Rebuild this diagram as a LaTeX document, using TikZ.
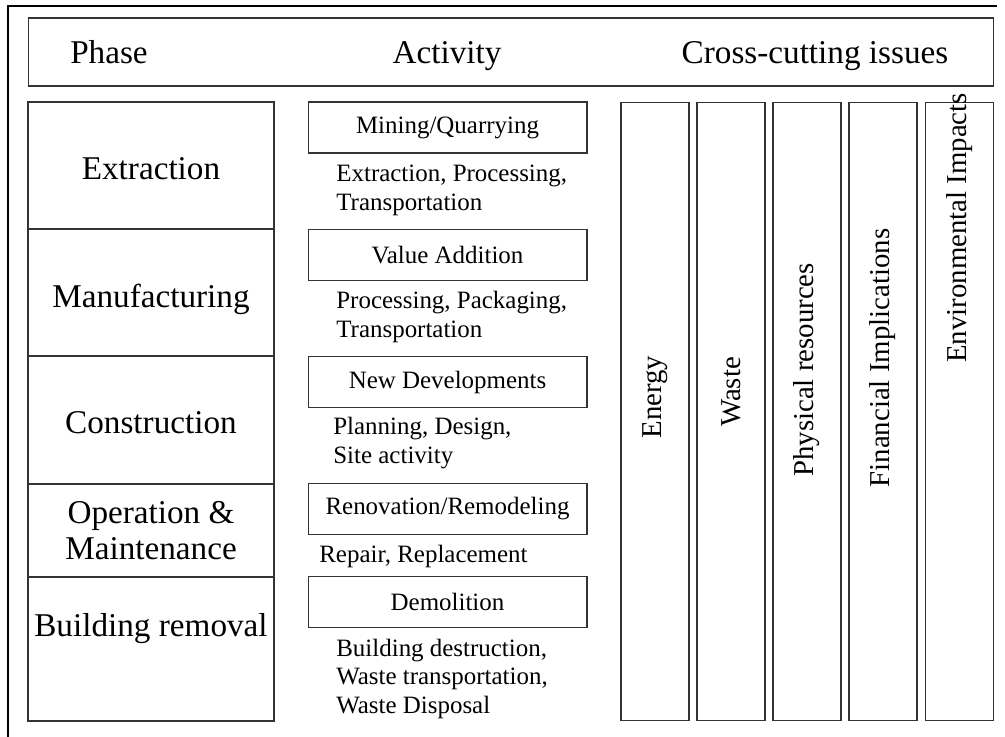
\documentclass[tikz,border=0pt]{standalone}
\usepackage{fontspec}
\setmainfont{Liberation Serif}
\usetikzlibrary{positioning}

\begin{document}
\begin{tikzpicture}[
x=0.02cm,
y=-0.02cm,
frame/.style={line width=1.1pt},
headbox/.style={
draw=black!80,
line width=0.6pt,
minimum width=19.32cm,
minimum height=1.36cm
},
headtext/.style={anchor=base,font=\fontsize{18.9}{22}\selectfont},
phasebox/.style={
draw=black!80,
line width=0.6pt,
minimum width=4.92cm
},
phasetext/.style={anchor=base,font=\fontsize{18.9}{20.4}\selectfont},
actbox/.style={
draw=black!80,
line width=0.6pt,
minimum width=5.58cm,
minimum height=1.02cm,
font=\fontsize{14.2}{17}\selectfont
},
% base west sits on the last line
subtext/.style={
anchor=base west,
align=left,
inner sep=0pt,
font=\fontsize{14.2}{16.2}\selectfont
},
issuebox/.style={
draw=black!80,
line width=0.6pt,
minimum width=1.36cm,
minimum height=12.38cm
},
issuetext/.style={rotate=90,font=\fontsize{16.4}{20}\selectfont}
]

\useasboundingbox (0,0) rectangle (1005,737);

% outer frame, only top and left edges
\draw[frame] (8,737) -- (8,6) -- (997,6);

% header row
\node[headbox] (header) at (511,52) {};
\node[headtext] (phase) at (109,63) {Phase};
\node[headtext] (activity) at (447,63) {Activity};
\node[headtext] (issues) at (815,63) {Cross-cutting issues};

% phases
\node[phasebox,minimum height=2.54cm] (extraction) at (151,165.5) {};
\node[phasebox,minimum height=2.54cm] (manufacturing) at (151,292.5) {};
\node[phasebox,minimum height=2.56cm] (construction) at (151,420) {};
\node[phasebox,minimum height=1.86cm] (operation) at (151,530.5) {};
\node[phasebox,minimum height=2.88cm] (removal) at (151,649) {};

\node[phasetext] (extractiontext) at (151,179) {Extraction};
\node[phasetext] (manufacturingtext) at (151,307) {Manufacturing};
\node[phasetext] (constructiontext) at (151,433) {Construction};
\node[phasetext] (operationtext) at (151,523) {Operation \&};
\node[phasetext] (maintenancetext) at (151,559) {Maintenance};
\node[phasetext] (removaltext) at (151,636) {Building removal};

% activities
\node[actbox] (mining) at (447.5,127.5) {Mining/Quarrying};
\node[subtext] (miningsub) at (336,210) {Extraction, Processing,\\Transportation};

\node[actbox] (value) at (447.5,255) {Value Addition};
\node[subtext] (valuesub) at (336,337) {Processing, Packaging,\\Transportation};

\node[actbox] (newdev) at (447.5,382) {New Developments};
\node[subtext] (newdevsub) at (333,463) {Planning, Design,\\Site activity};

\node[actbox] (renovation) at (447.5,509) {Renovation/Remodeling};
\node[subtext] (renovationsub) at (319,562) {Repair, Replacement};

\node[actbox] (demolition) at (447.5,602) {Demolition};
\node[subtext] (demolitionsub) at (336,713) {Building destruction,\\Waste transportation,\\Waste Disposal};

% cross-cutting issues
\node[issuebox] (energy) at (655,411.5) {};
\node[issuebox] (waste) at (731,411.5) {};
\node[issuebox] (physical) at (807,411.5) {};
\node[issuebox] (financial) at (883,411.5) {};
\node[issuebox] (environment) at (959.5,411.5) {};

\node[issuetext] (energytext) at (655,397) {Energy};
\node[issuetext] (wastetext) at (731,392) {Waste};
\node[issuetext] (physicaltext) at (807,370) {Physical resources};
\node[issuetext] (financialtext) at (883,358) {Financial Implications};
\node[issuetext] (environmenttext) at (959.5,228) {Environmental Impacts};

\end{tikzpicture}
\end{document}
